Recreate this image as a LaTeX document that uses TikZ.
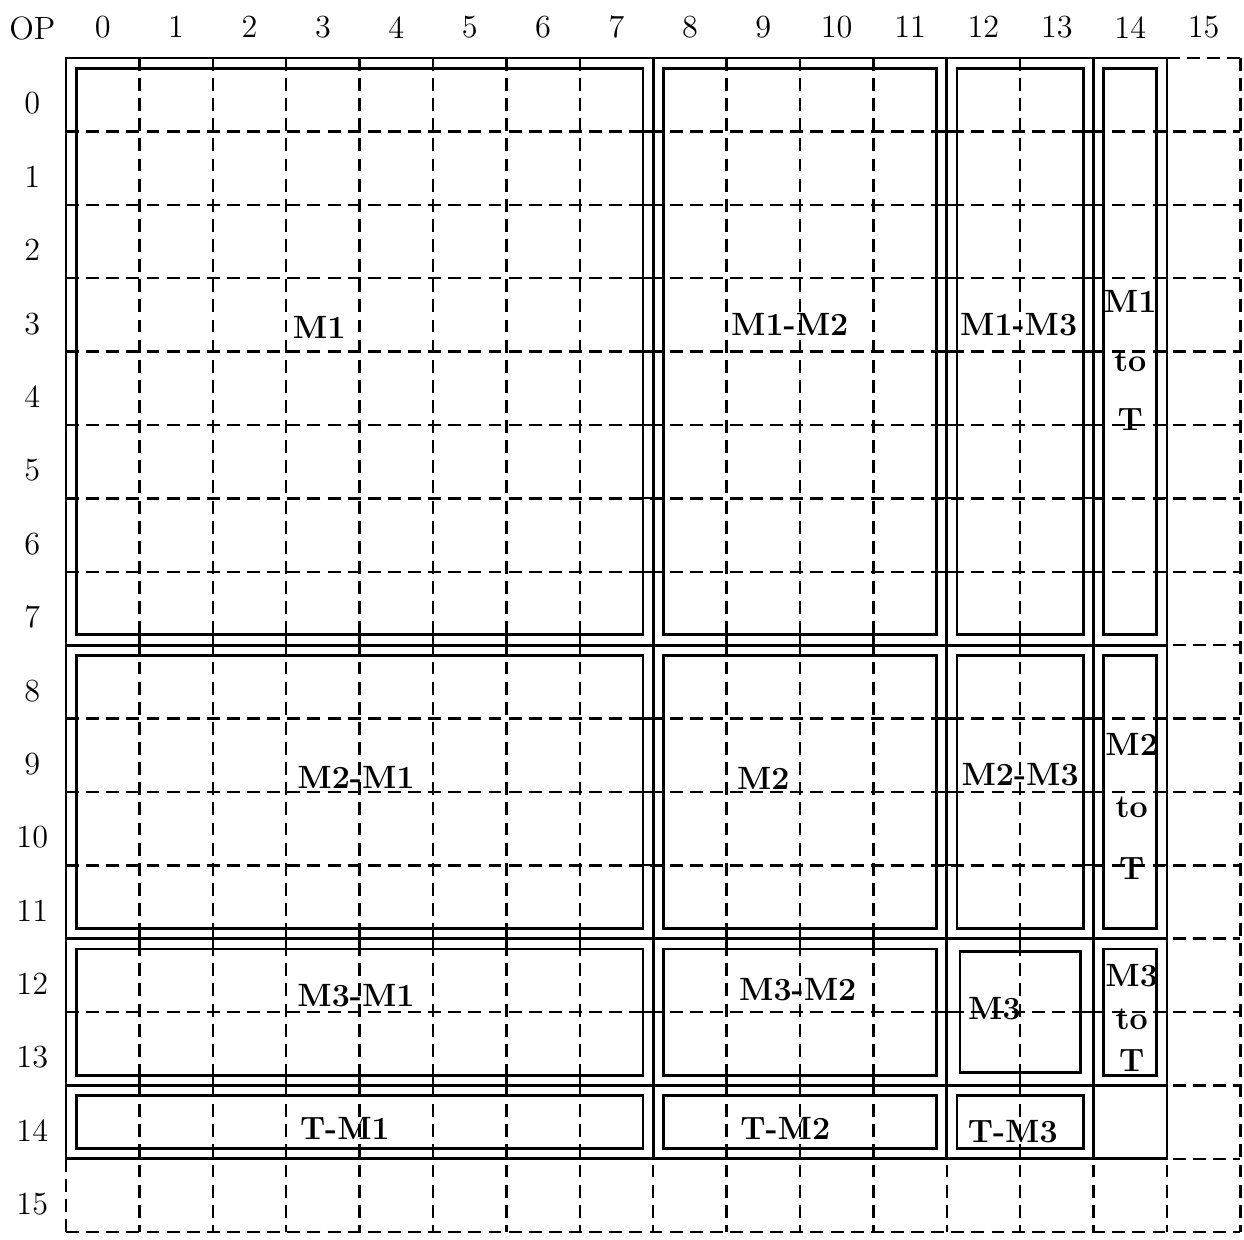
\documentclass[tikz,border=0pt]{standalone}
\usepackage{tikz}

\begin{document}
\begin{tikzpicture}[line width=1.1pt,
    gridline/.style={line width=0.95pt, dash pattern=on 5pt off 2.8pt},
    blocklabel/.style={font=\fontsize{12.5}{14}\selectfont\bfseries, inner sep=0pt},
    stacklabel/.style={blocklabel, align=center},
    axislabel/.style={font=\fontsize{12.5}{14}\selectfont, inner sep=0pt}]
    \useasboundingbox (-0.9,-16.1) rectangle (16.05,0.79);

    % Dashed grid
    \foreach \i in {1,...,16} {
        \draw[gridline] (\i,0) -- (\i,-16);
        \draw[gridline] (0,-\i) -- (16,-\i);
    }
    \draw[gridline] (15,0) -- (16,0);
    \draw[gridline] (0,-15) -- (0,-16);

    % Block frame
    \draw (0,0) rectangle (15,-15);
    \foreach \x in {8,12,14} \draw (\x,0) -- (\x,-15);
    \foreach \y in {8,12,14} \draw (0,-\y) -- (15,-\y);

    % Solid grid ticks between frame and inner boxes
    \begin{scope}
        \clip (0,0) rectangle (15,-15);
        \foreach \k in {1,...,7,9,10,11,13} {
            \foreach \p in {0,8,12,14,15} {
                \draw[line width=0.9pt] (\k,-\p+0.14) -- (\k,-\p-0.14);
                \draw[line width=0.9pt] (\p-0.14,-\k) -- (\p+0.14,-\k);
            }
        }
    \end{scope}

    % Inner boxes (x1/y1/x2/y2/inset)
    \foreach \xa/\ya/\xb/\yb/\d in {0/0/8/8/0.14, 8/0/12/8/0.14, 12/0/14/8/0.14, 14/0/15/8/0.14,
        0/8/8/12/0.14, 8/8/12/12/0.14, 12/8/14/12/0.14, 14/8/15/12/0.14,
        0/12/8/14/0.14, 8/12/12/14/0.14, 12/12/14/14/0.18, 14/12/15/14/0.14,
        0/14/8/15/0.14, 8/14/12/15/0.14, 12/14/14/15/0.14} {
        \draw (\xa+\d,-\ya-\d) rectangle (\xb-\d,-\yb+\d);
    }

    % Axis numbers
    \node[axislabel] (op) at (-0.46,0.4) {OP};
    \foreach \i in {0,...,15} {
        \node[axislabel] (col\i) at (\i+0.5,0.42) {\i};
        \node[axislabel] (row\i) at (-0.46,-\i-0.62) {\i};
    }

    % Block labels
    \node[blocklabel] (m1) at (3.45,-3.67) {M1};
    \node[blocklabel] (m1m2) at (9.86,-3.63) {M1-M2};
    \node[blocklabel] (m1m3) at (12.98,-3.63) {M1-M3};
    \node[stacklabel, font=\fontsize{12.5}{23}\selectfont\bfseries] (m1t) at (14.5,-4.12) {M1\\to\\T};
    \node[blocklabel] (m2m1) at (3.95,-9.8) {M2-M1};
    \node[blocklabel] (m2m) at (9.5,-9.81) {M2};
    \node[blocklabel] (m2m3) at (13.0,-9.77) {M2-M3};
    \node[stacklabel, font=\fontsize{12.5}{24}\selectfont\bfseries] (m2t) at (14.52,-10.2) {M2\\to\\T};
    \node[blocklabel] (m3m1) at (3.95,-12.77) {M3-M1};
    \node[blocklabel] (m3m2) at (9.97,-12.69) {M3-M2};
    \node[blocklabel] (m3m) at (12.65,-12.95) {M3};
    \node[stacklabel, font=\fontsize{12.5}{16.5}\selectfont\bfseries] (m3t) at (14.52,-13.08) {M3\\to\\T};
    \node[blocklabel] (tm1) at (3.8,-14.59) {T-M1};
    \node[blocklabel] (tm2) at (9.8,-14.59) {T-M2};
    \node[blocklabel] (tm3) at (12.9,-14.63) {T-M3};
\end{tikzpicture}
\end{document}
